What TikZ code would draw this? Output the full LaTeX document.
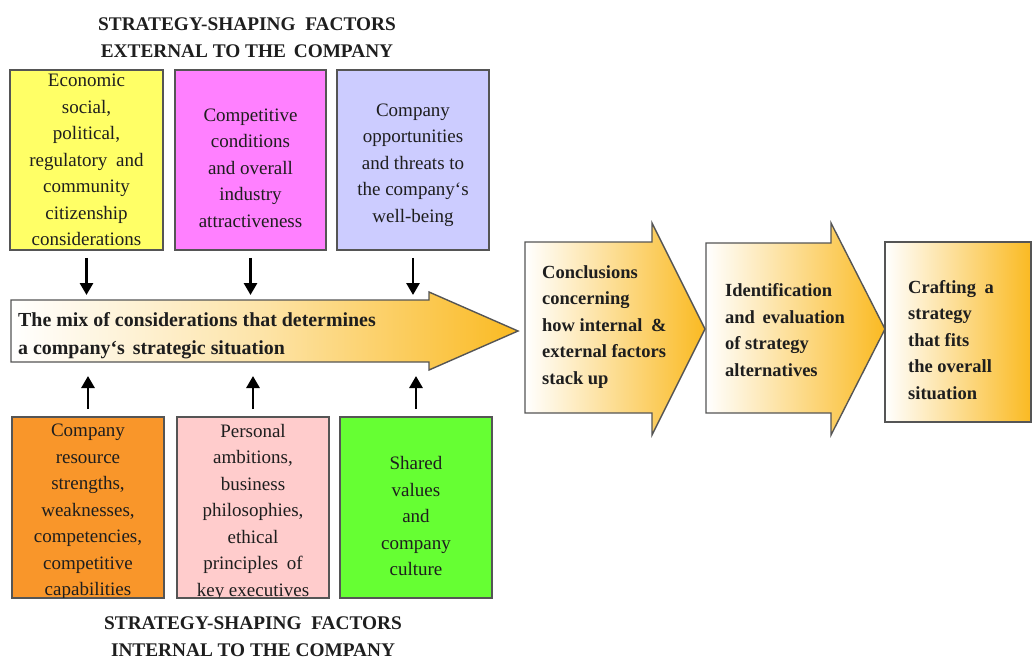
\documentclass[tikz,border=0pt]{standalone}
\usepackage{fontspec}
\setmainfont{Liberation Serif}
\usetikzlibrary{arrows.meta,calc}
\definecolor{gold}{RGB}{250,186,34}
\definecolor{bxyellow}{RGB}{255,255,102}
\definecolor{bxmagenta}{RGB}{255,128,255}
\definecolor{bxlav}{RGB}{204,204,255}
\definecolor{bxorange}{RGB}{249,150,42}
\definecolor{bxpink}{RGB}{255,204,204}
\definecolor{bxgreen}{RGB}{102,255,51}
\definecolor{edge}{RGB}{85,85,85}
\definecolor{ink}{RGB}{30,30,30}
\begin{document}
\begin{tikzpicture}[x=1pt,y=-1pt,
  factorbox/.style={draw=edge,line width=1.6pt,minimum height=180pt,inner sep=0pt},
  boxtext/.style={align=center,text=ink,inner sep=0pt,font=\fontsize{19}{26.5}\selectfont},
  flowtext/.style={align=left,text=ink,inner sep=0pt,anchor=west,font=\fontsize{18.5}{26.5}\selectfont\bfseries},
  titletext/.style={align=center,text=ink,inner sep=0pt,font=\fontsize{19.3}{27}\selectfont\bfseries},
  flowshape/.style={draw=edge,line width=1.4pt,left color=white,right color=gold},
  feed/.style={draw=black,line width=2.8pt,-{Triangle[width=13pt,length=12pt]}}
]
\useasboundingbox (0,0) rectangle (1033,659);

% titles
\node[titletext] (ttop) at (247,38) {STRATEGY-SHAPING\hspace{5pt} FACTORS\\EXTERNAL TO THE\hspace{3pt} COMPANY};
\node[titletext] (tbot) at (253,637) {STRATEGY-SHAPING\hspace{5pt} FACTORS\\INTERNAL TO THE COMPANY};

% external factor boxes
\node[factorbox,fill=bxyellow,minimum width=153pt] (b1) at (86.5,160) {};
\node[factorbox,fill=bxmagenta,minimum width=151pt] (b2) at (250.5,160) {};
\node[factorbox,fill=bxlav,minimum width=152pt] (b3) at (413,160) {};
\node[boxtext] (t1) at (86.5,160) {Economic\\social,\\political,\\regulatory\hspace{4pt} and\\community\\citizenship\\considerations};
\node[boxtext] (t2) at (250.5,168) {Competitive\\conditions\\and overall\\industry\\attractiveness};
\node[boxtext] (t3) at (413,165) {Company\\opportunities\\and threats to\\the company‘s\\well-being};

% internal factor boxes
\node[factorbox,fill=bxorange,minimum width=152pt,minimum height=181pt] (b4) at (88,507.5) {};
\node[factorbox,fill=bxpink,minimum width=152pt,minimum height=181pt] (b5) at (253,507.5) {};
\node[factorbox,fill=bxgreen,minimum width=152pt,minimum height=181pt] (b6) at (416,507.5) {};
\begin{scope}
\clip (0,417) rectangle (1033,597);
\node[boxtext] (t4) at (88,512) {Company\\resource\\strengths,\\weaknesses,\\competencies,\\competitive\\capabilities};
\node[boxtext] (t5) at (253,512) {Personal\\ambitions,\\business\\philosophies,\\ethical\\principles\hspace{4pt} of\\key executives};
\end{scope}
\node[boxtext] (t6) at (416,516) {Shared\\values\\and\\company\\culture};

% central mix arrow
\draw[flowshape,middle color=gold!40] (11,300) -- (429,300) -- (429,292) -- (518,331) -- (429,370) -- (429,362) -- (11,362) -- cycle;
\node[flowtext,font=\fontsize{19.9}{28}\selectfont\bfseries] (mix) at (18,336) {The mix of considerations that determines\\a company‘s\hspace{3pt} strategic situation};
\coordinate (mixtop) at (0,295);
\coordinate (mixbot) at (0,376);

% feeding arrows
\draw[feed] ([yshift=-7pt]b1.south) -- (b1.south |- mixtop);
\draw[feed] ([yshift=-7pt]b2.south) -- (b2.south |- mixtop);
\draw[feed] ([yshift=-7pt]b3.south) -- (b3.south |- mixtop);
\draw[feed] ([yshift=7pt]b4.north) -- (b4.north |- mixbot);
\draw[feed] ([yshift=7pt]b5.north) -- (b5.north |- mixbot);
\draw[feed] ([yshift=7pt]b6.north) -- (b6.north |- mixbot);

% right-hand flow
\draw[flowshape] (525,242) -- (652,242) -- (652,223) -- (705,329) -- (652,435) -- (652,413) -- (525,413) -- cycle;
\node[flowtext] (c1) at (542,327) {Conclusions\\concerning\\how internal\hspace{4pt} \&\\external factors\\stack up};
\draw[flowshape] (706,243) -- (831,243) -- (831,223) -- (885,329) -- (831,435) -- (831,413) -- (706,413) -- cycle;
\node[flowtext] (c2) at (725,330) {Identification\\and\hspace{3pt} evaluation\\of strategy\\alternatives};
\draw[flowshape] (885,242) rectangle (1031,422);
\node[flowtext] (c3) at (908,340) {Crafting\hspace{4pt} a\\strategy\\that fits\\the overall\\situation};
\end{tikzpicture}
\end{document}
